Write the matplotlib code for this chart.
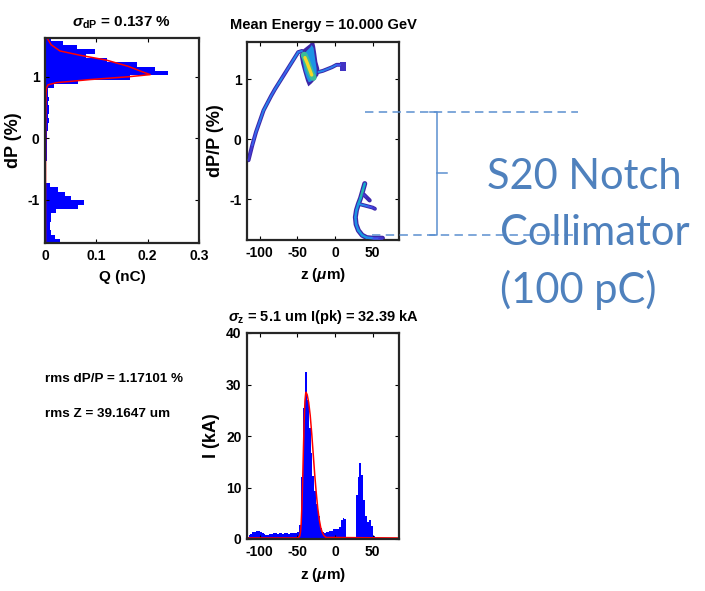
import numpy as np
import matplotlib
matplotlib.use("Agg")
import matplotlib.pyplot as plt
from matplotlib.collections import LineCollection
from matplotlib.colors import LinearSegmentedColormap
from matplotlib.lines import Line2D

# ---- energy spectrum (charge per dP bin) ----
dp_edges = np.linspace(-1.705, 1.655, 49)
q_hist = [0.030, 0.020, 0.012, 0.010, 0.010, 0.011, 0.012, 0.022, 0.065, 0.076,
          0.050, 0.038, 0.026, 0.010, 0.002, 0.001, 0.001, 0.002, 0.002, 0.003,
          0.003, 0.003, 0.004, 0.003, 0.004, 0.004, 0.005, 0.006, 0.007, 0.006,
          0.008, 0.007, 0.006, 0.007, 0.006, 0.006, 0.018, 0.065, 0.165, 0.240,
          0.215, 0.180, 0.120, 0.080, 0.097, 0.062, 0.035, 0.012]
# fitted profile
fit_dp = [-1.70, 0.00, 0.70, 0.82, 0.87, 0.905, 0.955, 1.00, 1.035, 1.08, 1.17,
          1.27, 1.35, 1.42, 1.52, 1.63]
fit_q = [0.001, 0.001, 0.002, 0.003, 0.006, 0.023, 0.088, 0.162, 0.205, 0.190,
         0.162, 0.120, 0.068, 0.029, 0.012, 0.004]

# ---- longitudinal phase space tracks (z in um, dP/P in %, density level 0..1) ----
streak_z = [-115, -110, -105, -100, -95, -90, -85, -80, -75, -70, -65, -60, -55, -49, -44]
streak_dp = [-0.35, -0.10, 0.12, 0.30, 0.48, 0.60, 0.72, 0.83, 0.93, 1.03, 1.13, 1.23, 1.33, 1.45, 1.47]
streak_lvl = [0.05, 0.10, 0.25, 0.15, 0.30, 0.20, 0.25, 0.15, 0.30, 0.20, 0.15, 0.25, 0.20, 0.30, 0.15]

core_out_z = [-32, -28, -26.5, -25, -23.5, -21, -22, -26.5, -31, -35.5, -38.5, -42, -45, -47, -44, -38, -33]
core_out_dp = [1.64, 1.63, 1.55, 1.43, 1.29, 1.18, 1.07, 0.99, 0.93, 0.88, 0.97, 1.12, 1.26, 1.40, 1.48, 1.54, 1.59]
core_in_z = [-31, -28.5, -27.5, -26, -24.5, -24.5, -28, -32, -35, -38, -41, -43, -41, -37, -33]
core_in_dp = [1.57, 1.52, 1.43, 1.30, 1.18, 1.08, 1.01, 0.96, 0.95, 1.03, 1.15, 1.30, 1.42, 1.48, 1.53]
ridge_z = [-41, -38, -35, -32, -29]
ridge_dp = [1.40, 1.31, 1.20, 1.10, 1.03]
peak_z = [-40, -37, -34, -31]
peak_dp = [1.36, 1.27, 1.17, 1.07]

arm_z = [-22, -16, -10, -4, 2, 7]
arm_dp = [1.12, 1.14, 1.17, 1.20, 1.24, 1.24]
arm_lvl = [0.30, 0.25, 0.20, 0.25, 0.20, 0.10]
tip_z = [7, 14, 14, 7]
tip_dp = [1.13, 1.13, 1.29, 1.29]

tail_z = [39.5, 37, 34, 31, 28.5, 27, 28, 31, 36, 42, 50, 58, 63]
tail_dp = [-0.74, -0.85, -0.98, -1.08, -1.18, -1.30, -1.42, -1.52, -1.60, -1.64, -1.65, -1.65, -1.65]
tail_lvl = [0.30, 0.60, 0.50, 0.35, 0.30, 0.30, 0.25, 0.30, 0.35, 0.30, 0.20, 0.10, 0.05]
fork_z = [32, 38, 44, 50, 53]
fork_dp = [-1.08, -1.10, -1.12, -1.14, -1.16]
fork_lvl = [0.30, 0.25, 0.20, 0.10, 0.05]
spur_z = [38, 42, 46]
spur_dp = [-0.92, -0.97, -1.02]
spur_lvl = [0.10, 0.05, 0.0]

# ---- current profile ----
z_edges = np.linspace(-117.5, 85.0, 82)
current = [0.4, 0.7, 1.0, 1.3, 1.4, 1.5, 1.55, 1.4, 1.2, 0.9,
           0.7, 0.7, 0.9, 1.0, 1.1, 1.1, 1.0, 1.1, 1.1, 1.0,
           1.1, 1.1, 1.0, 1.1, 1.1, 1.2, 1.2, 1.4, 2.7, 12.0,
           25.5, 32.39, 27.0, 21.5, 16.7, 12.2, 9.4, 6.8, 4.4, 2.2,
           1.4, 1.2, 1.4, 1.3, 1.5, 1.6, 1.9, 2.0, 2.0, 2.3,
           3.6, 4.1, 3.8, 0.0, 0.0, 0.0, 0.0, 0.0, 8.5, 12.0,
           14.8, 12.5, 7.5, 4.4, 3.3, 3.6, 2.5, 0.6, 0.3, 0.0,
           0.0, 0.0, 0.0, 0.0, 0.0, 0.0, 0.0, 0.0, 0.0, 0.0, 0.0]
fit_z = [-117, -50, -47, -46, -45, -44, -43, -42, -41, -40, -39, -38.5, -37, -35,
         -33, -31, -29, -27, -25, -23, -21, -19, -17, -15, -12, 85]
fit_i = [0.2, 0.2, 0.5, 1.3, 3.0, 6.5, 11.5, 17.5, 23.0, 26.8, 28.3, 28.5, 28.0, 26.5,
         24.0, 20.5, 16.5, 12.5, 9.0, 6.0, 3.8, 2.2, 1.3, 0.7, 0.3, 0.2]

plt.rcParams['font.family'] = ['Liberation Sans', 'DejaVu Sans']
plt.rcParams['font.weight'] = 'bold'
plt.rcParams['axes.titleweight'] = 'bold'
plt.rcParams['axes.labelweight'] = 'bold'
plt.rcParams['axes.unicode_minus'] = False
plt.rcParams['mathtext.fontset'] = 'custom'
plt.rcParams['mathtext.rm'] = 'Liberation Sans:bold'
plt.rcParams['mathtext.it'] = 'Liberation Sans:italic'
plt.rcParams['mathtext.bf'] = 'Liberation Sans:bold'

parula = LinearSegmentedColormap.from_list('parula', [
    '#3e26a8', '#4748f0', '#2488eb', '#11a5d9', '#12b2c0',
    '#45bf8f', '#a6bf55', '#f0ba39', '#f9fb15'])

W, H = 705, 591
fig = plt.figure(figsize=(W / 100, H / 100), dpi=100)


def box(l, t, r, b):
    return [l / W, 1 - b / H, (r - l) / W, (b - t) / H]


def matlab_axes(ax):
    ax.tick_params(direction='in', length=3, width=0.8, top=True, right=True,
                   labelsize=10, pad=4)
    for s in ax.spines.values():
        s.set_linewidth(1.6)
        s.set_color('#262626')


def track(ax, z, dp, lvl, width):
    ax.plot(z, dp, color=parula(0.0), lw=width, solid_capstyle='round',
            solid_joinstyle='round', zorder=2)
    pts = np.column_stack([z, dp]).reshape(-1, 1, 2)
    segs = np.concatenate([pts[:-1], pts[1:]], axis=1)
    lv = np.asarray(lvl)
    lc = LineCollection(segs, colors=parula((lv[:-1] + lv[1:]) / 2),
                        linewidths=width * 0.5, capstyle='round', zorder=3)
    ax.add_collection(lc)


# energy spectrum
ax1 = fig.add_axes(box(45, 38, 199, 243))
ax1.stairs(q_hist, dp_edges, orientation='horizontal', fill=True, color='blue')
ax1.plot(fit_q, fit_dp, color='red', lw=1.1)
ax1.set_xlim(0, 0.3)
ax1.set_ylim(-1.7, 1.63)
ax1.set_xticks([0, 0.1, 0.2, 0.3], ['0', '0.1', '0.2', '0.3'])
ax1.set_yticks([-1, 0, 1])
ax1.set_xlabel('Q (nC)', fontsize=11, labelpad=5)
ax1.set_ylabel('dP (%)', fontsize=13, labelpad=4)
ax1.set_title(r'$\sigma_{\mathbf{dP}}$ = 0.137 %', fontsize=11, pad=8)
matlab_axes(ax1)

# longitudinal phase space
ax2 = fig.add_axes(box(247, 42, 399, 240))
track(ax2, streak_z, streak_dp, streak_lvl, 2.9)
ax2.fill(core_out_z, core_out_dp, color=parula(0.0), lw=0, zorder=2)
ax2.fill(core_in_z, core_in_dp, color=parula(0.3), lw=0, zorder=3)
ax2.plot(ridge_z, ridge_dp, color=parula(0.6), lw=5, solid_capstyle='round', zorder=4)
ax2.plot(peak_z, peak_dp, color=parula(0.93), lw=2.4, solid_capstyle='round', zorder=5)
track(ax2, arm_z, arm_dp, arm_lvl, 2.8)
ax2.fill(tip_z, tip_dp, color=parula(0.05), lw=0, zorder=2)
track(ax2, tail_z, tail_dp, tail_lvl, 3.6)
track(ax2, fork_z, fork_dp, fork_lvl, 2.8)
track(ax2, spur_z, spur_dp, spur_lvl, 3.0)
ax2.set_xlim(-117, 85)
ax2.set_ylim(-1.68, 1.62)
ax2.set_xticks([-100, -50, 0, 50])
ax2.set_yticks([-1, 0, 1])
ax2.set_xlabel(r'z ($\mu$m)', fontsize=11, labelpad=5)
ax2.set_ylabel('dP/P (%)', fontsize=13, labelpad=4)
ax2.set_title('Mean Energy = 10.000 GeV', fontsize=10.5, pad=9)
matlab_axes(ax2)

# current profile
ax3 = fig.add_axes(box(247, 333, 399, 539))
ax3.stairs(current, z_edges, fill=True, color='blue')
ax3.plot(fit_z, fit_i, color='red', lw=1.1)
ax3.set_xlim(-117, 85)
ax3.set_ylim(0, 40)
ax3.set_xticks([-100, -50, 0, 50])
ax3.set_yticks([0, 10, 20, 30, 40])
ax3.set_xlabel(r'z ($\mu$m)', fontsize=11, labelpad=5)
ax3.set_ylabel('I (kA)', fontsize=13, labelpad=4)
ax3.set_title(r'$\sigma_{\mathbf{z}}$ = 5.1 um I(pk) = 32.39 kA', fontsize=10.5, pad=9)
matlab_axes(ax3)

fig.text(45 / W, 1 - 382 / H, 'rms dP/P = 1.17101 %', fontsize=9.7)
fig.text(45 / W, 1 - 417 / H, 'rms Z = 39.1647 um', fontsize=9.7)

# notch collimator marker
line_c = '#5b8fd0'


def fline(xs, ys, **kw):
    fig.add_artist(Line2D([x / W for x in xs], [1 - y / H for y in ys],
                          transform=fig.transFigure, color=line_c, lw=1.1, **kw))


fline([365, 578], [112, 112], ls=(0, (5.5, 3.5)))
fline([372, 578], [235, 235], ls=(0, (5.5, 3.5)))
fline([430, 437, 437, 430], [112, 112, 235, 235])
fline([437, 447], [173, 173])

txt_c = '#4f81bd'
for s, x, y in [('S20 Notch', 487, 189), ('Collimator', 500, 245), ('(100 pC)', 500, 303)]:
    fig.text(x / W, 1 - y / H, s, fontsize=30, color=txt_c, family='Lato',
             fontweight='normal', va='baseline', ha='left')

fig.savefig('out.png', dpi=100)
